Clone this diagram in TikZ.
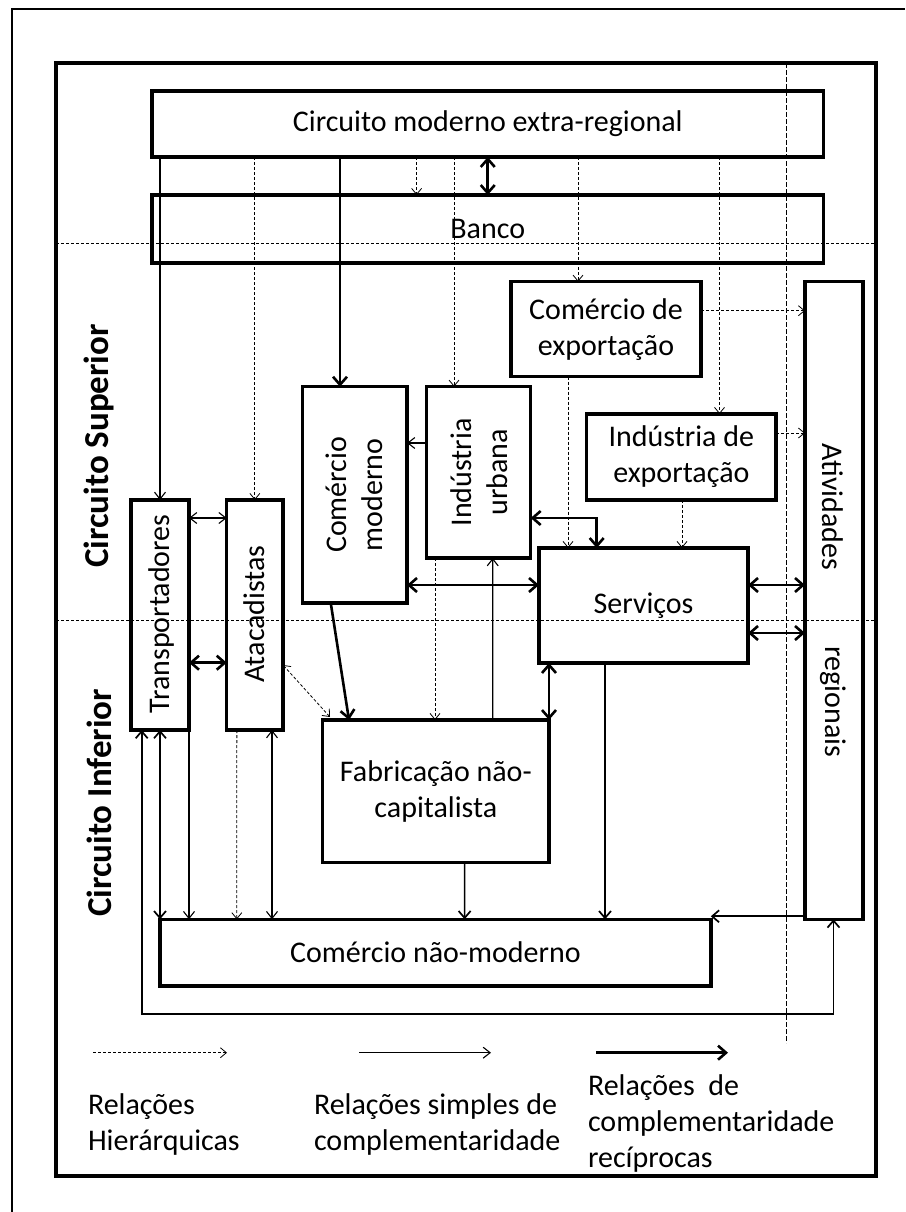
\documentclass[tikz,border=0pt]{standalone}
\usepackage{fontspec}
\setmainfont{Carlito}
\usetikzlibrary{arrows.meta,calc}
\begin{document}
\begin{tikzpicture}[x=1pt,y=-1pt,
  every node/.style={font=\fontsize{30}{36}\selectfont, inner sep=0pt, outer sep=0pt},
  box/.style={draw, line width=3.5pt, rectangle},
  hier/.style={line width=0.8pt, dash pattern=on 3pt off 2pt, >={Straight Barb[length=6pt,width=10pt]}},
  simp/.style={line width=1.1pt, >={Straight Barb[length=7pt,width=11pt]}},
  medi/.style={line width=1.7pt, >={Straight Barb[length=7pt,width=12pt]}},
  recip/.style={line width=2.6pt, >={Straight Barb[length=8pt,width=14pt]}},
  sepline/.style={line width=0.8pt, dash pattern=on 3pt off 2pt},
  vsepline/.style={line width=0.8pt, dash pattern=on 5pt off 2pt},
  rlab/.style={font=\fontsize{35}{40}\selectfont\bfseries, rotate=90},
]
\useasboundingbox (0,0) rectangle (905,1212);

% frames and separators
\draw[line width=2pt] (12,1212) -- (12,9) -- (905,9);
\draw[line width=3.5pt] (56,63) rectangle (876,1176);
\draw[sepline] (56,243) -- (876,243);
\draw[sepline] (56,620) -- (876,620);
\draw[vsepline] (786.7,63) -- (786.7,1043);

% boxes
\node[box, minimum width=671.5pt, minimum height=66pt] (circ) at (487.75,124) {Circuito moderno extra-regional};
\node[box, minimum width=671.5pt, minimum height=68pt] (banco) at (487.75,229) {Banco};
\node[box, minimum width=58pt, minimum height=230pt] (transp) at (160,615) {};
\node[rotate=90] (transpT) at (161,614) {Transportadores};
\node[box, minimum width=56.3pt, minimum height=230pt] (atac) at (254.85,615) {};
\node[rotate=90] (atacT) at (254,614) {Atacadistas};
\node[box, minimum width=104.5pt, minimum height=216.3pt] (commod) at (354.75,494.85) {};
\node[rotate=90, align=center] (commodT) at (commod) {Comércio\\moderno};
\node[box, minimum width=104pt, minimum height=171.3pt] (indurb) at (478.7,472.35) {};
\node[rotate=90, align=center] (indurbT) at (indurb) {Indústria\\urbana};
\node[box, minimum width=190pt, minimum height=95pt, align=center] (comexp) at (606,329.2) {Comércio de\\exportação};
\node[box, minimum width=189.3pt, minimum height=86pt, align=center] (indexp) at (681.35,457) {Indústria de\\exportação};
\node[box, minimum width=209pt, minimum height=115pt] (serv) at (643.5,605.5) {Serviços};
\node[box, minimum width=58pt, minimum height=637.6pt] (ativ) at (834,600.5) {};
\node[rotate=-90] (ativT) at (833,507) {Atividades};
\node[rotate=-90] (regT) at (833,702) {regionais};
\node[box, minimum width=226.3pt, minimum height=142.7pt, align=center] (fabr) at (435.85,791.35) {Fabricação não-\\capitalista};
\node[box, minimum width=550.8pt, minimum height=66.7pt] (cnm) at (435.4,952.65) {Comércio não-moderno};

% side labels
\node[rlab] (supL) at (99,446) {Circuito Superior};
\node[rlab] (infL) at (99,803) {Circuito Inferior};

% hierarchical relations
\draw[hier,->] (circ.south -| atac.north) -- (atac.north);
\draw[hier,->] ($(circ.south)+(-71.15,0)$) -- ($(banco.north)+(-71.15,0)$);
\draw[hier,->] ($(circ.south)+(-33.75,0)$) -- ($(indurb.north)+(-24.7,0)$);
\draw[hier,->] ($(circ.south)+(90.25,0)$) -- ($(comexp.north)+(-28,0)$);
\draw[hier,->] ($(circ.south)+(231.75,0)$) -- ($(indexp.north)+(38.15,0)$);
\draw[hier,->] ($(comexp.east)+(0,-18.5)$) -- ($(ativ.west)+(0,-289.8)$);
\draw[hier,->] ($(indexp.east)+(0,-24)$) -- ($(ativ.west)+(0,-167.5)$);
\draw[hier,->] ($(comexp.south)+(-38,0)$) -- ($(serv.north)+(-75.5,0)$);
\draw[hier,->] ($(indexp.south)+(0.65,0)$) -- ($(serv.north)+(38.5,0)$);
\draw[hier,->] ($(indurb.south)+(-43.7,0)$) -- ($(fabr.north)+(-0.85,0)$);
\draw[hier,<->] ($(atac.east)+(0,50)$) -- ($(fabr.north west)+(7.3,-3)$);
\draw[hier,->] ($(atac.south)+(-18,0)$) -- ($(cnm.north)+(-198.6,0)$);

% simple complementarity
\draw[simp,->] (circ.south -| transp.north) -- (transp.north);
\draw[simp,<->] ($(transp.east)+(0,-97)$) -- ($(atac.west)+(0,-97)$);
\draw[simp,->] ($(indurb.west)+(0,-29.35)$) -- ($(commod.east)+(0,-51.85)$);
\draw[simp,->] ($(fabr.north)+(56.85,0)$) -- ($(indurb.south)+(14,0)$);
\draw[simp,->] (transp.south east) -- (cnm.north -| transp.south east);
\draw[simp,<->] ($(atac.south)+(17.15,0)$) -- ($(cnm.north)+(-163.4,0)$);
\draw[medi,->] ($(serv.south)+(-38.5,0)$) -- ($(cnm.north)+(169.6,0)$);
\draw[medi,->] ($(fabr.south)+(28.75,0)$) -- ($(cnm.north)+(29.2,0)$);
\draw[medi,->] ($(ativ.south west)+(0,-3)$) -- ($(cnm.north east)+(0,-3)$);
\draw[medi,<->] ($(transp.south)+(-18.3,0)$) -- ++(0,284) -| ($(ativ.south)+(-0.5,0)$);
\draw[medi,<->] (cnm.north west |- transp.south) -- (cnm.north west);

% reciprocal complementarity
\draw[recip,->] ($(circ.south)+(-147.75,0)$) -- ($(commod.north)+(-14.75,0)$);
\draw[recip,<->] (circ.south) -- (banco.north);
\draw[recip,<->] ($(indurb.east)+(0,45.65)$) -| ($(serv.north)+(-46.8,0)$);
\draw[recip,<->] ($(commod.east)+(0,90.15)$) -- ($(serv.west)+(0,-20.5)$);
\draw[recip,<->] ($(serv.east)+(0,-20.5)$) -- ($(ativ.west)+(0,-15.5)$);
\draw[recip,<->] ($(serv.east)+(0,27.5)$) -- ($(ativ.west)+(0,32.5)$);
\draw[recip,<->] ($(transp.east)+(0,47.7)$) -- ($(atac.west)+(0,47.7)$);
\draw[recip,->] ($(commod.south)+(-24,0)$) -- ($(fabr.north)+(-86.85,0)$);
\draw[recip,<->] (fabr.north east) -- (serv.south -| fabr.north east);

% legend
\coordinate (lg1a) at (93,1052.7);
\coordinate (lg1b) at (227,1052.7);
\coordinate (lg2a) at (359,1052.7);
\coordinate (lg2b) at (491,1052.7);
\coordinate (lg3a) at (596,1052.7);
\coordinate (lg3b) at (728,1052.7);
\draw[hier,->] (lg1a) -- (lg1b);
\draw[simp,->] (lg2a) -- (lg2b);
\draw[recip,->] (lg3a) -- (lg3b);
\node[anchor=west, align=left] (lt1) at (88,1124) {Relações\\Hierárquicas};
\node[anchor=west, align=left] (lt2) at (314,1124) {Relações simples de\\complementaridade};
\node[anchor=west, align=left] (lt3) at (588,1123) {Relações\ \ de\\complementaridade\\recíprocas};
\end{tikzpicture}
\end{document}
